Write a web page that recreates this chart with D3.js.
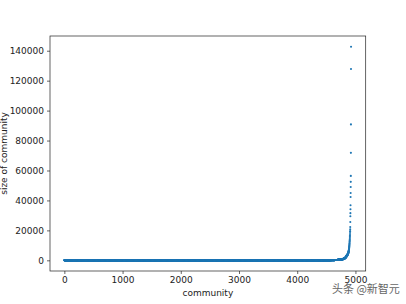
<!DOCTYPE html>
<html>
<head>
<meta charset="utf-8">
<script src="https://cdn.jsdelivr.net/npm/d3@7"></script>
<style>
html,body{margin:0;padding:0;background:#fff;}
svg{display:block;}
text{font-family:"DejaVu Sans",sans-serif;}
</style>
</head>
<body>
<svg id="chart" width="406" height="304"></svg>
<script>
// Community sizes, sorted ascending (run-length: size value and how many communities have it)
const bulkSizes  = [1, 2, 3, 4, 5, 7, 10, 14, 20, 30, 45, 70, 100, 150, 230, 350, 500, 700, 1000, 1400, 1900, 2500, 3200, 3900];
const bulkCounts = [1785, 700, 400, 300, 250, 250, 200, 180, 150, 120, 100, 80, 70, 60, 50, 40, 30, 25, 20, 15, 12, 12, 12, 10];
// The largest communities, ascending
const tailSizes = [4200, 4300, 4400, 4500, 4600, 4700, 4850, 5000, 5150, 5300, 5500, 5700, 5900, 6100, 6300,
  6550, 6800, 7100, 7400, 7700, 8000, 8400, 8800, 9200, 9600, 10000, 10500, 11000, 11600, 12200,
  12800, 13400, 14100, 14900, 15700, 16600, 17600, 18900, 19500, 20800, 22300, 25600, 29400,
  31500, 34100, 36800, 42300, 45000, 49000, 52400, 56400, 71800, 90800,
  127800, 142700];
const xTicks = [0, 1000, 2000, 3000, 4000, 5000];
const yTicks = [0, 20000, 40000, 60000, 80000, 100000, 120000, 140000];

// Expand to one value per community (index = rank)
const sizes = [];
bulkSizes.forEach((s, i) => { for (let k = 0; k < bulkCounts[i]; k++) sizes.push(s); });
tailSizes.forEach(s => sizes.push(s));
const data = sizes.map((s, i) => ({community: i, size: s}));

const svg = d3.select("#chart");
const L = 50, R = 365.7, T = 36, B = 271;
const xMin = 0, xMax = 4930, xPad = 0.05 * (xMax - xMin);
const yMin = d3.min(sizes), yMax = d3.max(sizes), yPad = 0.05 * (yMax - yMin);
const x = d3.scaleLinear().domain([xMin - xPad, xMax + xPad]).range([L, R]);
const y = d3.scaleLinear().domain([yMin - yPad, yMax + yPad]).range([B, T]);

// points
svg.append("g").selectAll("circle").data(data).join("circle")
  .attr("cx", d => x(d.community))
  .attr("cy", d => y(d.size))
  .attr("r", 1.05)
  .attr("fill", "#1f77b4");

// axes
const xAxis = d3.axisBottom(x).tickValues(xTicks).tickSize(3).tickPadding(3).tickFormat(d3.format("d"));
const yAxis = d3.axisLeft(y).tickValues(yTicks).tickSize(3).tickPadding(3).tickFormat(d3.format("d"));
const gx = svg.append("g").attr("transform", `translate(0,${B})`).call(xAxis);
const gy = svg.append("g").attr("transform", `translate(${L},0)`).call(yAxis);
[gx, gy].forEach(g => {
  g.select(".domain").remove();
  g.selectAll(".tick line").attr("stroke", "#222").attr("stroke-width", 0.7);
  g.selectAll(".tick text").attr("fill", "#222").style("font-size", "9px").style("font-family", "DejaVu Sans");
});

// frame
svg.append("rect").attr("x", L).attr("y", T).attr("width", R - L).attr("height", B - T)
  .attr("fill", "none").attr("stroke", "#222").attr("stroke-width", 0.7);

// labels
svg.append("text").attr("x", (L + R) / 2).attr("y", 296).attr("text-anchor", "middle")
  .attr("fill", "#222").style("font-size", "9px").text("community");
svg.append("text").attr("transform", `translate(7,${(T + B) / 2}) rotate(-90)`).attr("text-anchor", "middle")
  .attr("fill", "#222").style("font-size", "9px").text("size of community");

// watermark
svg.append("text").attr("x", 332).attr("y", 292.5)
  .attr("fill", "#666").attr("stroke", "#fff").attr("stroke-width", 0.4).attr("paint-order", "stroke")
  .style("font-family", "Noto Sans CJK SC").style("font-size", "11px").text("头条 @新智元");
</script>
</body>
</html>
